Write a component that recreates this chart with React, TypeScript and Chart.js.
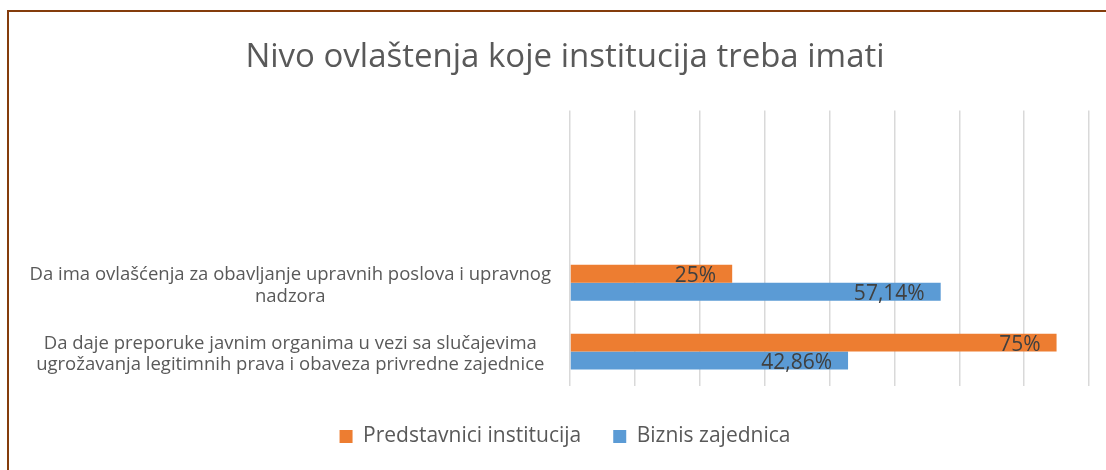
import React, { useEffect, useRef } from "react";
import { Chart, registerables } from "chart.js";

Chart.register(...registerables);

const chartTitle = "Nivo ovlaštenja koje institucija treba imati";
const categories: (string | string[])[] = [
  "",
  "",
  ["Da ima ovlašćenja za obavljanje upravnih poslova i upravnog", "nadzora"],
  ["Da daje preporuke javnim organima u vezi sa slučajevima", "ugrožavanja legitimnih prava i obaveza privredne zajednice"],
];
const seriesNames = ["Predstavnici institucija", "Biznis zajednica"];
const institucije: (number | null)[] = [null, null, 25, 75];
const biznis: (number | null)[] = [null, null, 57.14, 42.86];
const xMin = 0;
const xMax = 80;
const xStep = 10;

const ORANGE = "#ED7D31";
const BLUE = "#5B9BD5";
const TEXT = "#595959";
const FONT = "'Open Sans', Lato, sans-serif";

function fmt(v: number): string {
  return Number.isInteger(v) ? `${v}%` : `${v.toFixed(2).replace(".", ",")}%`;
}

const dataLabels = {
  id: "dataLabels",
  afterDatasetsDraw(chart: any) {
    const ctx = chart.ctx;
    ctx.save();
    ctx.font = `21px ${FONT}`;
    ctx.fillStyle = "#404040";
    ctx.textAlign = "right";
    ctx.textBaseline = "alphabetic";
    chart.data.datasets.forEach((ds: any, di: number) => {
      const meta = chart.getDatasetMeta(di);
      meta.data.forEach((el: any, i: number) => {
        const v = ds.data[i];
        if (v === null || v === undefined) return;
        ctx.fillText(fmt(v), el.x - 16, el.y + 8.5);
      });
    });
    ctx.restore();
  },
};

// centre title and legend on the full canvas width
const recenter = {
  id: "recenter",
  afterLayout(chart: any) {
    const boxes = [chart.titleBlock, chart.legend];
    boxes.forEach((b: any) => {
      if (!b) return;
      b.left = 0;
      b.right = chart.width;
      b.width = chart.width;
    });
  },
};

export default function App() {
  const ref = useRef<HTMLCanvasElement | null>(null);
  useEffect(() => {
    if (!ref.current) return;
    const chart = new Chart(ref.current, {
      type: "bar",
      data: {
        labels: categories,
        datasets: [
          { label: seriesNames[0], data: institucije, backgroundColor: ORANGE },
          { label: seriesNames[1], data: biznis, backgroundColor: BLUE },
        ],
      },
      options: {
        indexAxis: "y",
        animation: false,
        responsive: false,
        maintainAspectRatio: false,
        layout: { padding: { left: 0, right: 34, top: 0, bottom: 13 } },
        datasets: { bar: { categoryPercentage: 0.52, barPercentage: 1 } },
        scales: {
          x: {
            min: xMin,
            max: xMax,
            ticks: { display: false, stepSize: xStep },
            grid: { color: "#D9D9D9", lineWidth: 1.5, drawTicks: false },
            border: { display: false },
            afterFit: (s: any) => { s.height = 8; },
          },
          y: {
            ticks: {
              crossAlign: "center",
              padding: 19,
              labelOffset: 3,
              color: TEXT,
              font: { family: FONT, size: 18.5, lineHeight: 1.15 },
            },
            grid: { display: false, drawTicks: false },
            border: { display: false },
            afterFit: (s: any) => { s.width = 563; },
          },
        },
        plugins: {
          title: {
            display: true,
            text: chartTitle,
            color: TEXT,
            font: { family: FONT, size: 33, weight: "normal", lineHeight: 1.2 },
            padding: { top: 28, bottom: 33 },
          },
          legend: {
            position: "bottom",
            labels: {
              color: TEXT,
              font: { family: FONT, size: 21 },
              boxWidth: 13,
              boxHeight: 13,
              padding: 32,
            },
          },
          tooltip: { enabled: false },
        },
      },
      plugins: [dataLabels, recenter],
    });
    return () => chart.destroy();
  }, []);

  return (
    <div style={{ position: "absolute", left: 0, top: 0, width: 1106, height: 470, overflow: "hidden", background: "#fff" }}>
      <div
        style={{
          position: "absolute",
          left: 7,
          top: 10,
          width: 1116,
          height: 480,
          boxSizing: "border-box",
          border: "2px solid #843C0C",
        }}
      />
      <canvas ref={ref} width={1116} height={460} style={{ position: "absolute", left: 7, top: 10, width: 1116, height: 460 }} />
    </div>
  );
}
